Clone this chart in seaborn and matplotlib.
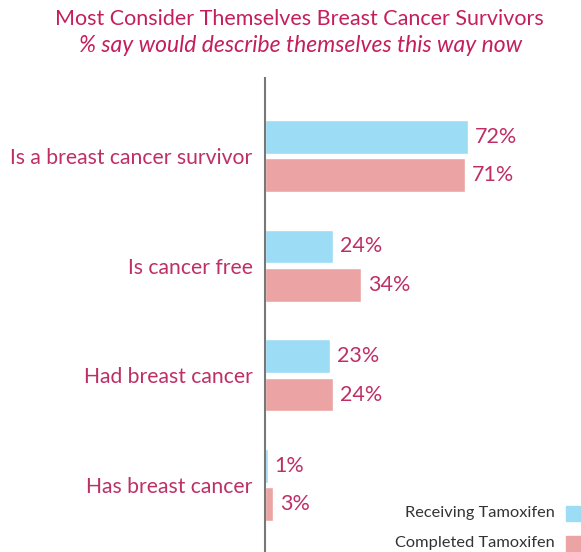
import matplotlib
matplotlib.use("Agg")
import matplotlib.pyplot as plt
import seaborn as sns
import pandas as pd

categories = ["Is a breast cancer survivor", "Is cancer free", "Had breast cancer", "Has breast cancer"]
receiving = [72, 24, 23, 1]
completed = [71, 34, 24, 3]
series_names = ["Receiving Tamoxifen", "Completed Tamoxifen"]

df = pd.DataFrame({
    "category": categories * 2,
    "value": receiving + completed,
    "series": [series_names[0]] * 4 + [series_names[1]] * 4,
})

sns.set_theme(style="white")
plt.rcParams["font.family"] = ["Lato", "DejaVu Sans"]

TXT = "#BE2F66"
TITLE = "#C41F5C"
palette = {series_names[0]: "#9DDCF5", series_names[1]: "#EBA4A3"}

fig = plt.figure(figsize=(5.81, 5.52), dpi=100)
ax = fig.add_axes([265 / 581, 0.0, (581 - 265) / 581, 1 - 78 / 552])

sns.barplot(data=df, y="category", x="value", hue="series", order=categories,
            hue_order=series_names, palette=palette, orient="h", width=0.7,
            gap=0.12, ax=ax, legend=False, saturation=1)

ax.set_xlim(0, 112)
ax.set_ylim(3.61, -0.71)
ax.set_xlabel("")
ax.set_ylabel("")
ax.set_xticks([])
for s in ["top", "right", "bottom"]:
    ax.spines[s].set_visible(False)
ax.spines["left"].set_color("#777777")
ax.spines["left"].set_linewidth(1.5)
ax.tick_params(axis="y", length=0, pad=9, labelsize=15.2, labelcolor=TXT)

for cont in ax.containers:
    ax.bar_label(cont, labels=[f"{v:.0f}%" for v in cont.datavalues], padding=5,
                 color=TXT, fontsize=15.5)

fig.text(0.515, 0.966, "Most Consider Themselves Breast Cancer Survivors",
         ha="center", va="center", color=TITLE, fontsize=15.5)
fig.text(0.518, 0.917, "% say would describe themselves this way now",
         ha="center", va="center", color=TITLE, fontsize=16.5, style="italic")

# legend
for i, (name, yy) in enumerate(zip(series_names, [513, 543])):
    fig.text(555 / 581, 1 - yy / 552, name, ha="right", va="center",
             color="#333333", fontsize=11.8)
    fig.patches.append(plt.Rectangle((566 / 581, 1 - (yy + 8) / 552), 20 / 581, 15 / 552,
                                     transform=fig.transFigure, color=palette[name],
                                     figure=fig))

fig.savefig("out.png", dpi=100)
